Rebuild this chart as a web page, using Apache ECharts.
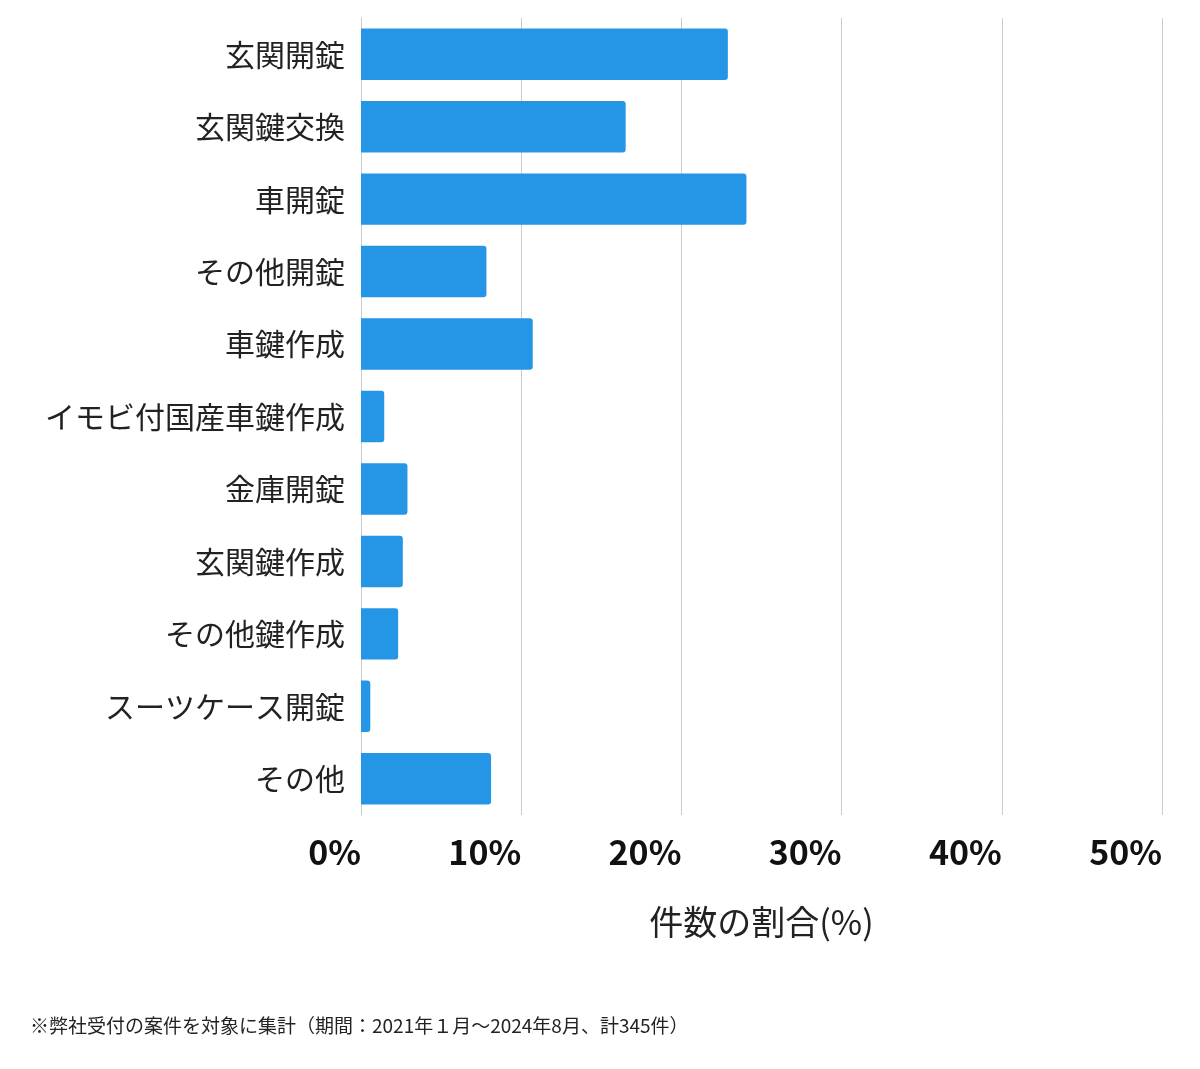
<!DOCTYPE html>
<html><head><meta charset="utf-8">
<script src="https://cdn.jsdelivr.net/npm/echarts@6/dist/echarts.min.js"></script>
<style>html,body{margin:0;padding:0;background:#fff}#c{width:1200px;height:1069px}</style>
</head><body><div id="c"></div>
<script>
const categories = ["玄関開錠","玄関鍵交換","車開錠","その他開錠","車鍵作成","イモビ付国産車鍵作成","金庫開錠","玄関鍵作成","その他鍵作成","スーツケース開錠","その他"];
const counts = [79,57,83,27,37,5,10,9,8,2,28];
const total = 345;
const values = counts.map(c => +(c / total * 100).toFixed(2));
const tickLabels = ["0%","10%","20%","30%","40%","50%"];
const chart = echarts.init(document.getElementById('c'));
const font = '"Noto Sans CJK JP","Noto Sans",sans-serif';
chart.setOption({
  animation:false,
  textStyle:{fontFamily:font},
  grid:{left:361,right:38,top:18,bottom:254},
  xAxis:{type:'value',min:0,max:50,interval:10,
    axisLine:{show:false},axisTick:{show:false},
    splitLine:{lineStyle:{color:'#cccccc',width:1}},
    axisLabel:{formatter:v=>tickLabels[v/10],fontSize:34,fontWeight:'bold',color:'#111',align:'right',margin:20,fontFamily:font},
    name:'件数の割合(%)',nameLocation:'middle',nameGap:90,
    nameTextStyle:{fontSize:34,color:'#222',fontFamily:font}},
  yAxis:{type:'category',data:categories,inverse:true,
    axisLine:{show:true,lineStyle:{color:'#cccccc'}},axisTick:{show:false},
    axisLabel:{fontSize:30,color:'#222',margin:16,fontFamily:font}},
  series:[{type:'bar',data:values,barCategoryGap:'29%',
    itemStyle:{color:'#2596e6',borderRadius:[0,3,3,0]}}],
  graphic:[{type:'text',left:30,top:1016,style:{text:'※弊社受付の案件を対象に集計（期間：2021年１月〜2024年8月、計345件）',fontSize:19,fill:'#222',fontFamily:font}}]
});
</script></body></html>
